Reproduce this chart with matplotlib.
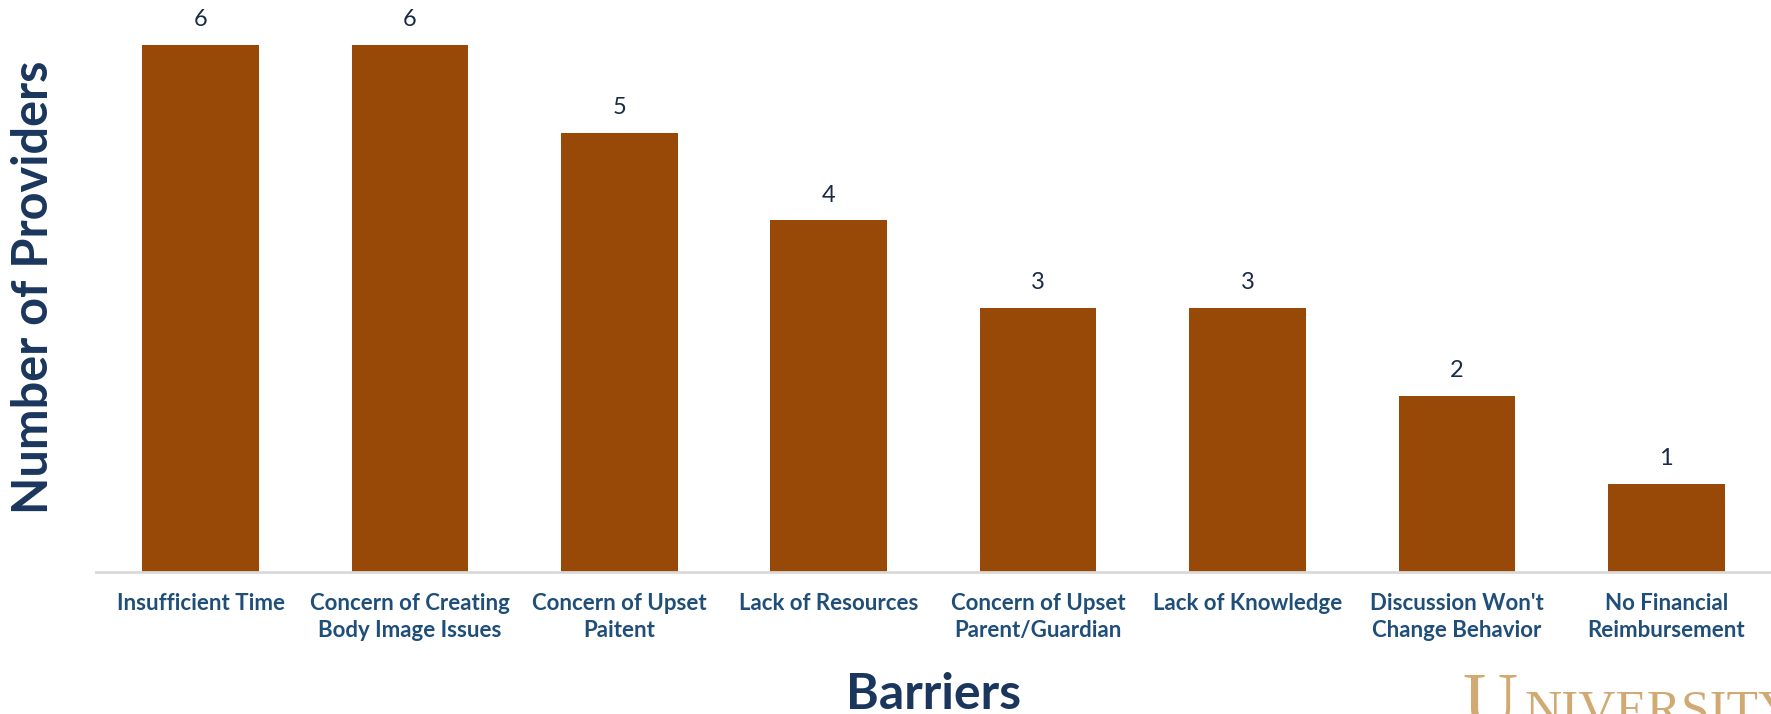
import numpy as np
import matplotlib.pyplot as plt

barriers = ["Insufficient Time", "Concern of Creating\nBody Image Issues",
            "Concern of Upset\nPaitent", "Lack of Resources",
            "Concern of Upset\nParent/Guardian", "Lack of Knowledge",
            "Discussion Won't\nChange Behavior", "No Financial\nReimbursement"]
providers = [6, 6, 5, 4, 3, 3, 2, 1]

bar_color = "#984807"
navy = "#1b365d"
tick_blue = "#1f4e79"

plt.rcParams['font.family'] = ['Lato', 'DejaVu Sans']

fig = plt.figure(figsize=(17.71, 7.14), dpi=100)
ax = fig.add_axes([0.0542, 0.1993, 0.9458, 0.7993])

x = np.arange(len(barriers))
bars = ax.bar(x, providers, width=0.557, color=bar_color, zorder=2)

for b, v in zip(bars, providers):
    ax.text(b.get_x() + b.get_width() / 2, v + 0.17, str(v),
            ha='center', va='bottom', fontsize=17, color="#1a2b48")

ax.set_xlim(-0.5, len(barriers) - 0.5)
ax.set_ylim(0, 6.5)
ax.set_xticks(x)
ax.set_xticklabels(barriers, fontsize=16, fontweight='bold', color=tick_blue,
                   linespacing=1.4)
ax.tick_params(axis='x', length=0, pad=15)
ax.set_yticks([])

for s in ['top', 'right', 'left']:
    ax.spines[s].set_visible(False)
ax.spines['bottom'].set_color('#d9d9d9')
ax.spines['bottom'].set_linewidth(2)

fig.text(0.527, 0.007, "Barriers", ha='center', va='baseline',
         fontsize=36, fontweight='bold', color=navy)
fig.text(0.019, 0.597, "Number of Providers", rotation=90, ha='center',
         va='center', fontsize=35, fontweight='bold', color=navy)

# partially visible logo text in the corner
fig.text(0.8255, -0.015, "U", fontsize=55, family='Liberation Serif',
         color="#c99a5b", ha='left', va='baseline', alpha=0.85)
fig.text(0.861, -0.015, "NIVERSITY", fontsize=37, family='Liberation Serif',
         color="#c99a5b", ha='left', va='baseline', alpha=0.85)

fig.savefig("out.png", dpi=100)
